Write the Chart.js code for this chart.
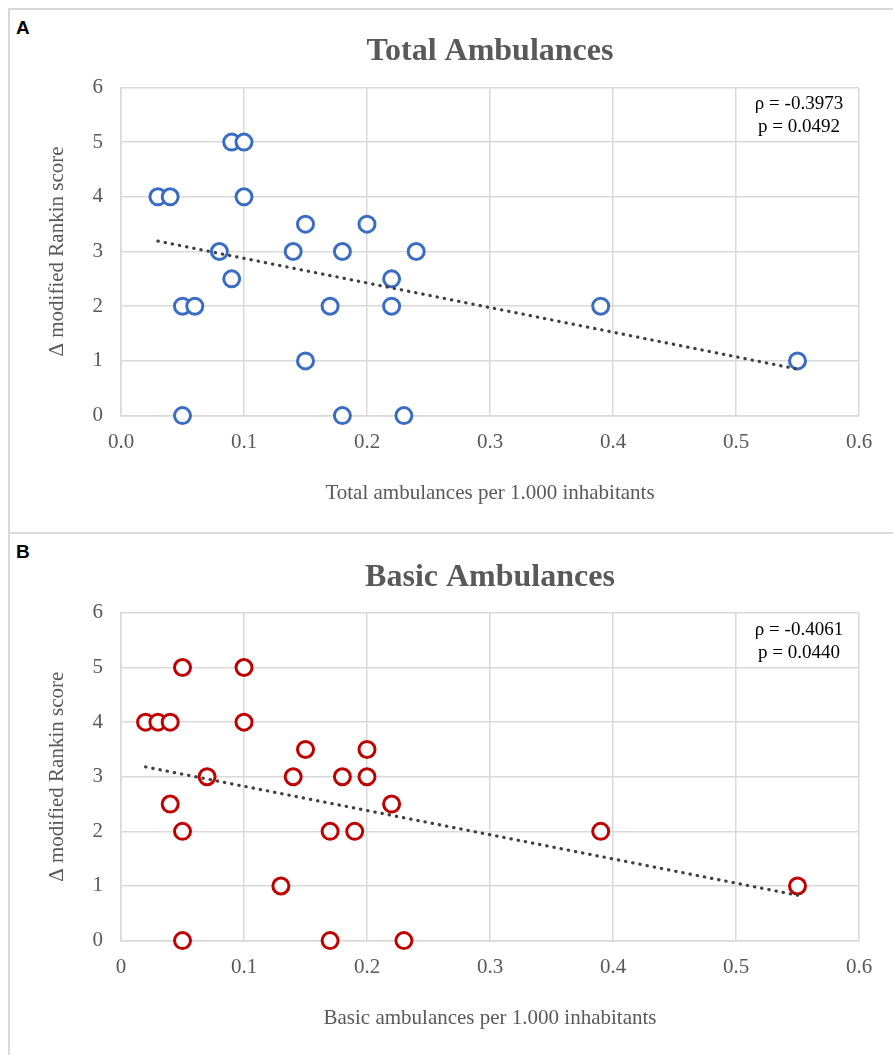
<!DOCTYPE html>
<html>
<head>
<meta charset="utf-8">
<script src="https://cdn.jsdelivr.net/npm/chart.js@4.4.0/dist/chart.umd.min.js"></script>
<style>
  body { margin: 0; width: 893px; height: 1055px; background: #fff; position: relative; overflow: hidden; }
  .line { position: absolute; background: #d9d9d9; }
  .tag { position: absolute; left: 16px; font: bold 19px/19px 'Liberation Sans', Arial, sans-serif; color: #000; }
  canvas { position: absolute; left: 0; }
</style>
</head>
<body>
<div class="line" style="left:8px;top:8px;width:885px;height:2px"></div>
<div class="line" style="left:8px;top:8px;width:2px;height:1047px"></div>
<div class="line" style="left:8px;top:532px;width:885px;height:2px"></div>
<div class="tag" style="top:18px">A</div>
<div class="tag" style="top:542px">B</div>
<canvas id="totalChart" width="893" height="534" style="top:0"></canvas>
<canvas id="basicChart" width="893" height="521" style="top:534px"></canvas>

<script>
// ── Data ─────────────────────────────────────────────────────────────
const totalX = [0.03, 0.04, 0.09, 0.10, 0.10, 0.15, 0.20, 0.08, 0.14, 0.18, 0.24, 0.09, 0.22, 0.05, 0.06, 0.17, 0.22, 0.15, 0.05, 0.18, 0.23, 0.39, 0.55];
const totalY = [4, 4, 5, 5, 4, 3.5, 3.5, 3, 3, 3, 3, 2.5, 2.5, 2, 2, 2, 2, 1, 0, 0, 0, 2, 1];
const totalTrendX = [0.03, 0.55];
const totalTrendY = [3.19, 0.85];
const totalStats = ['ρ = -0.3973', 'p = 0.0492'];

const basicX = [0.05, 0.10, 0.02, 0.03, 0.04, 0.10, 0.15, 0.20, 0.07, 0.14, 0.18, 0.20, 0.04, 0.22, 0.05, 0.17, 0.19, 0.13, 0.05, 0.17, 0.23, 0.39, 0.55];
const basicY = [5, 5, 4, 4, 4, 4, 3.5, 3.5, 3, 3, 3, 3, 2.5, 2.5, 2, 2, 2, 1, 0, 0, 0, 2, 1];
const basicTrendX = [0.02, 0.55];
const basicTrendY = [3.18, 0.83];
const basicStats = ['ρ = -0.4061', 'p = 0.0440'];

const xTicks = [0, 0.1, 0.2, 0.3, 0.4, 0.5, 0.6];
const yTicks = [0, 1, 2, 3, 4, 5, 6];

// ── Shared style ─────────────────────────────────────────────────────
const SERIF = "'Liberation Serif', 'Times New Roman', serif";
const GRAY  = '#595959';
const GRID  = '#d9d9d9';

const toPoints = (xs, ys) => xs.map((x, i) => ({ x, y: ys[i] }));

// stats box in the top-right cell
const statsText = {
  id: 'statsText',
  afterDatasetsDraw(chart, args, opts) {
    const { ctx, chartArea } = chart;
    ctx.save();
    ctx.font = '19px ' + SERIF;
    ctx.fillStyle = '#000';
    ctx.textAlign = 'center';
    ctx.textBaseline = 'middle';
    opts.lines.forEach((t, i) => {
      ctx.fillText(t, chartArea.right - 60, chartArea.top + 17 + i * 23);
    });
    ctx.restore();
  },
};

function makeChart(canvasId, cfg) {
  return new Chart(document.getElementById(canvasId), {
    type: 'scatter',
    data: {
      datasets: [
        {
          type: 'line',
          data: toPoints(cfg.trendX, cfg.trendY),
          borderColor: '#404040',
          borderWidth: 3.2,
          borderDash: [0.4, 6.9],
          borderCapStyle: 'round',
          pointRadius: 0,
          fill: false,
          clip: false,
        },
        {
          data: toPoints(cfg.xs, cfg.ys),
          pointRadius: 8,
          pointBorderWidth: 3,
          borderColor: cfg.color,
          pointBorderColor: cfg.color,
          pointBackgroundColor: '#fff',
          clip: false,
        },
      ],
    },
    options: {
      responsive: false,
      animation: false,
      layout: { padding: { left: 0, right: 34, top: 0, bottom: cfg.padBottom } },
      plugins: {
        legend: { display: false },
        tooltip: { enabled: false },
        title: {
          display: true,
          text: cfg.title,
          fullSize: false,
          color: GRAY,
          font: { family: SERIF, size: 32, weight: 'bold', lineHeight: 1.2 },
          padding: { top: cfg.titleTop, bottom: cfg.titleBottom },
        },
        statsText: { lines: cfg.stats },
      },
      scales: {
        x: {
          type: 'linear',
          min: 0,
          max: 0.6,
          afterBuildTicks: s => { s.ticks = xTicks.map(v => ({ value: v })); },
          grid: { color: GRID, lineWidth: 1.5, drawTicks: false },
          border: { color: GRID, width: 1.5 },
          ticks: {
            color: GRAY,
            padding: 14,
            font: { family: SERIF, size: 21, lineHeight: 1.2 },
            callback: v => cfg.zeroLabel && v === 0 ? cfg.zeroLabel : v.toFixed(1),
          },
          title: {
            display: true,
            text: cfg.xTitle,
            color: GRAY,
            font: { family: SERIF, size: 21, lineHeight: 1.2 },
            padding: { top: cfg.xTitleTop, bottom: 0 },
          },
        },
        y: {
          min: 0,
          max: 6,
          afterBuildTicks: s => { s.ticks = yTicks.map(v => ({ value: v })); },
          afterFit: s => { s.width = 121; },
          grid: { color: GRID, lineWidth: 1.5, drawTicks: false },
          border: { color: GRID, width: 1.5 },
          ticks: {
            color: GRAY,
            padding: 18,
            font: { family: SERIF, size: 21, lineHeight: 1.2 },
          },
          title: {
            display: true,
            text: 'Δ modified Rankin score',
            color: GRAY,
            font: { family: SERIF, size: 21, lineHeight: 1.2 },
            padding: { top: 45, bottom: 0 },
          },
        },
      },
    },
    plugins: [statsText],
  });
}

makeChart('totalChart', {
  xs: totalX, ys: totalY, trendX: totalTrendX, trendY: totalTrendY,
  stats: totalStats, color: '#3a6cc4',
  title: 'Total Ambulances', xTitle: 'Total ambulances per 1.000 inhabitants',
  titleTop: 33, titleBottom: 16, xTitleTop: 12, padBottom: 28,
});

makeChart('basicChart', {
  xs: basicX, ys: basicY, trendX: basicTrendX, trendY: basicTrendY,
  stats: basicStats, color: '#c00000', zeroLabel: '0',
  title: 'Basic Ambulances', xTitle: 'Basic ambulances per 1.000 inhabitants',
  titleTop: 25, titleBottom: 15.5, xTitleTop: 12, padBottom: 24,
});
</script>
</body>
</html>
